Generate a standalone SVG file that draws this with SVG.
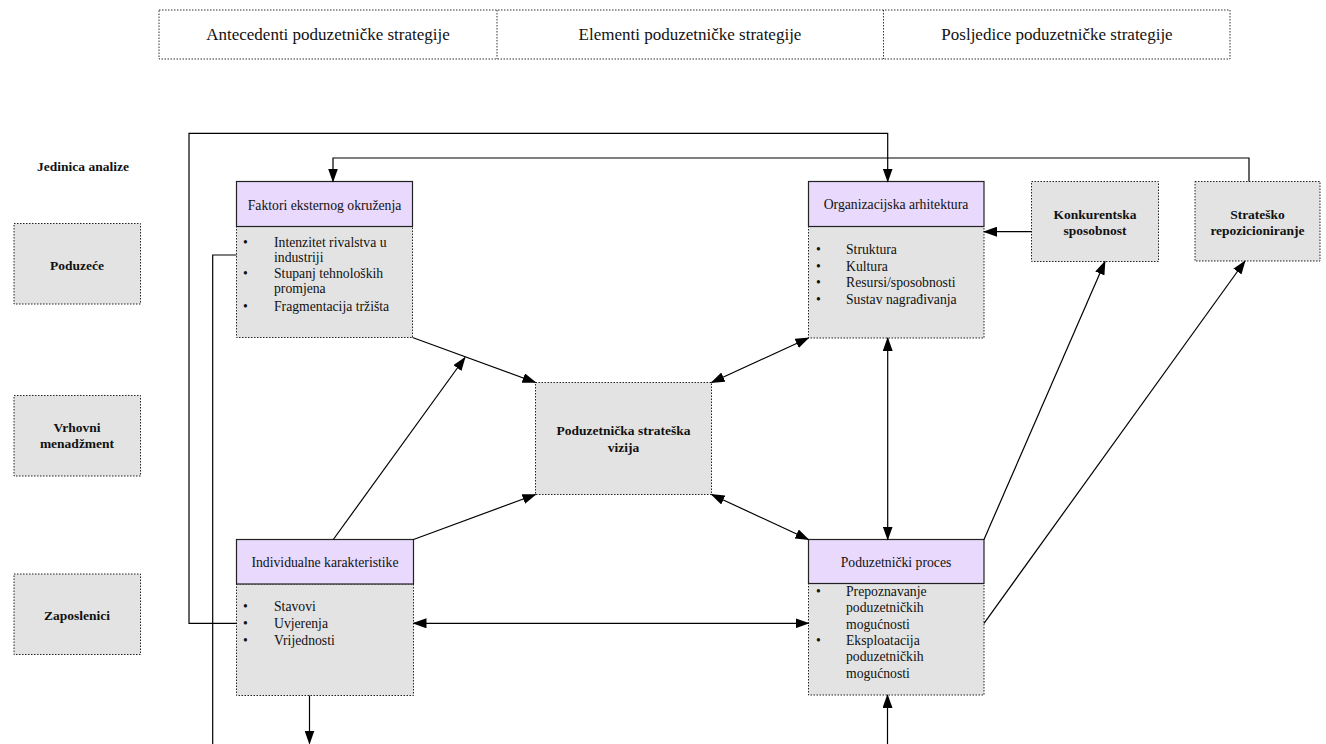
<svg xmlns="http://www.w3.org/2000/svg" width="1326" height="744" viewBox="0 0 1326 744" font-family="'Liberation Serif', 'DejaVu Serif', serif">
<style>
text{font-family:"Liberation Serif","DejaVu Serif",serif;fill:#111;}
.hd{font-size:17px;text-anchor:middle;}
.t{font-size:13.7px;}
.c{text-anchor:middle;}
.b{font-size:13.5px;font-weight:bold;text-anchor:middle;}
.dot{fill:#e3e3e3;stroke:#222;stroke-width:1;stroke-dasharray:1.5,1.5;}
.hdr{fill:none;stroke:#333;stroke-width:1;stroke-dasharray:1.5,1.5;}
.pur{fill:#e8d9fd;stroke:#222;stroke-width:1.2;}
.ln{fill:none;stroke:#000;stroke-width:1.2;}
</style>
<defs>
<marker id="ah" markerUnits="userSpaceOnUse" markerWidth="14" markerHeight="10" refX="13" refY="5" orient="auto-start-reverse" viewBox="0 0 14 10">
<path d="M0,0 L14,5 L0,10 z" fill="#000"/>
</marker>
</defs>

<g id="header">
<rect class="hdr" x="159" y="10" width="1071" height="49"/>
<line class="hdr" x1="497" y1="10" x2="497" y2="59"/>
<line class="hdr" x1="883.5" y1="10" x2="883.5" y2="59"/>
<text class="hd" x="328" y="40">Antecedenti poduzetničke strategije</text>
<text class="hd" x="690" y="40">Elementi poduzetničke strategije</text>
<text class="hd" x="1057" y="40">Posljedice poduzetničke strategije</text>
</g>

<g id="jedinica">
<text class="b" x="83" y="170.5">Jedinica analize</text>
</g>
<g id="poduzece">
<rect class="dot" x="14" y="223.5" width="126.5" height="80.5"/>
<text class="b" x="77" y="269.5">Poduzeće</text>
</g>
<g id="vrhovni">
<rect class="dot" x="14" y="395.5" width="126.5" height="80.5"/>
<text class="b" x="77" y="432">Vrhovni</text>
<text class="b" x="77" y="448">menadžment</text>
</g>
<g id="zaposlenici">
<rect class="dot" x="14" y="574" width="126.5" height="80.5"/>
<text class="b" x="77" y="619.5">Zaposlenici</text>
</g>

<g id="faktori">
<rect class="dot" x="236.5" y="226.5" width="176" height="111"/>
<rect class="pur" x="236.5" y="181.5" width="176" height="45"/>
<text class="t c" x="324.5" y="209.5">Faktori eksternog okruženja</text>
<text class="t" x="243" y="247">•</text><text class="t" x="274" y="247">Intenzitet rivalstva u</text>
<text class="t" x="274" y="262">industriji</text>
<text class="t" x="243" y="277.5">•</text><text class="t" x="274" y="277.5">Stupanj tehnoloških</text>
<text class="t" x="274" y="293">promjena</text>
<text class="t" x="243" y="311">•</text><text class="t" x="274" y="311">Fragmentacija tržišta</text>
</g>

<g id="organizacijska">
<rect class="dot" x="808.5" y="226.5" width="175.5" height="111.5"/>
<rect class="pur" x="808.5" y="181.5" width="175.5" height="45"/>
<text class="t c" x="896" y="208.5">Organizacijska arhitektura</text>
<text class="t" x="816" y="253.5">•</text><text class="t" x="846" y="253.5">Struktura</text>
<text class="t" x="816" y="270.5">•</text><text class="t" x="846" y="270.5">Kultura</text>
<text class="t" x="816" y="287">•</text><text class="t" x="846" y="287">Resursi/sposobnosti</text>
<text class="t" x="816" y="303.5">•</text><text class="t" x="846" y="303.5">Sustav nagrađivanja</text>
</g>

<g id="konkurentska">
<rect class="dot" x="1031.5" y="181.5" width="127" height="80"/>
<text class="b" x="1095" y="218.5">Konkurentska</text>
<text class="b" x="1095" y="234.5">sposobnost</text>
</g>

<g id="stratesko">
<rect class="dot" x="1195" y="181.5" width="125" height="79.5"/>
<text class="b" x="1257.5" y="218.5">Strateško</text>
<text class="b" x="1257.5" y="234.5">repozicioniranje</text>
</g>

<g id="vizija">
<rect class="dot" x="535.5" y="382.5" width="176" height="112"/>
<text class="b" x="623.5" y="435">Poduzetnička strateška</text>
<text class="b" x="623.5" y="451.5">vizija</text>
</g>

<g id="individualne">
<rect class="dot" x="236.5" y="584" width="177" height="111.5"/>
<rect class="pur" x="236.5" y="539.5" width="177" height="44.5"/>
<text class="t c" x="325" y="567">Individualne karakteristike</text>
<text class="t" x="243" y="611">•</text><text class="t" x="274" y="611">Stavovi</text>
<text class="t" x="243" y="627.5">•</text><text class="t" x="274" y="627.5">Uvjerenja</text>
<text class="t" x="243" y="644.5">•</text><text class="t" x="274" y="644.5">Vrijednosti</text>
</g>

<g id="proces">
<rect class="dot" x="808.5" y="583.5" width="175.5" height="111.5"/>
<rect class="pur" x="808.5" y="539.5" width="175.5" height="44"/>
<text class="t c" x="896" y="566.5">Poduzetnički proces</text>
<text class="t" x="816" y="595.5">•</text><text class="t" x="846" y="595.5">Prepoznavanje</text>
<text class="t" x="846" y="612">poduzetničkih</text>
<text class="t" x="846" y="628.5">mogućnosti</text>
<text class="t" x="816" y="644.5">•</text><text class="t" x="846" y="644.5">Eksploatacija</text>
<text class="t" x="846" y="661">poduzetničkih</text>
<text class="t" x="846" y="678">mogućnosti</text>
</g>

<g id="connectors">
<path class="ln" d="M236.5,623.3 H189 V133.3 H887.7 V181.5" marker-end="url(#ah)"/>
<path class="ln" d="M1249,181.5 V158 H333 V181.5" marker-end="url(#ah)"/>
<path class="ln" d="M236.5,255 H212.7 V744"/>
<path class="ln" d="M309.5,695.5 V743.5" marker-end="url(#ah)"/>
<path class="ln" d="M887.5,744 V695" marker-end="url(#ah)"/>
<path class="ln" d="M1031.5,231.7 H984" marker-end="url(#ah)"/>
<path class="ln" d="M412.5,337.5 L535.5,382.5" marker-end="url(#ah)"/>
<path class="ln" d="M333.3,539.5 L465,357.5" marker-end="url(#ah)"/>
<path class="ln" d="M413.5,539.5 L535.5,494.5" marker-end="url(#ah)"/>
<path class="ln" d="M808.5,338 L711.5,382.5" marker-start="url(#ah)" marker-end="url(#ah)"/>
<path class="ln" d="M711.5,494.5 L808.5,539.5" marker-start="url(#ah)" marker-end="url(#ah)"/>
<path class="ln" d="M887.7,338 V539.5" marker-start="url(#ah)" marker-end="url(#ah)"/>
<path class="ln" d="M413.5,623.3 H808.5" marker-start="url(#ah)" marker-end="url(#ah)"/>
<path class="ln" d="M984,539.5 L1105,261.5" marker-end="url(#ah)"/>
<path class="ln" d="M984,623.3 L1245,261" marker-end="url(#ah)"/>
</g>
</svg>
